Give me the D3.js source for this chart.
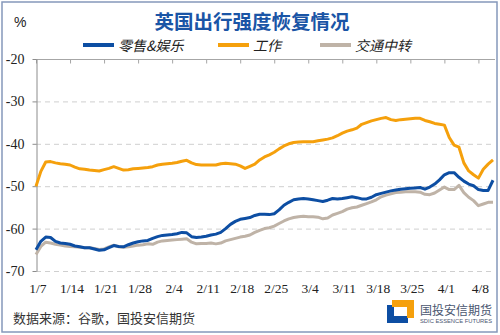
<!DOCTYPE html>
<html>
<head>
<meta charset="utf-8">
<script src="https://cdn.jsdelivr.net/npm/d3@7"></script>
<style>
  html, body { margin: 0; padding: 0; background: #fff; }
  svg { display: block; }
  .cjk { font-family: "Noto Sans CJK SC", "Noto Sans", sans-serif; }
  .num { font-family: "Liberation Serif", "DejaVu Serif", serif; }
</style>
</head>
<body>
<svg id="chart" width="500" height="335"></svg>
<script>
// UK mobility (Google), daily from 2021-01-07 to 2021-04-11, % vs baseline
var startDay = new Date(2021, 0, 7);
var endDay = new Date(2021, 3, 12);
var days = d3.timeDay.range(startDay, endDay);

var tickLabels = ["1/7", "1/14", "1/21", "1/28", "2/4", "2/11", "2/18",
                  "2/25", "3/4", "3/11", "3/18", "3/25", "4/1", "4/8"];
var yTicks = [-70, -60, -50, -40, -30, -20];

var retail = [
  -65, -63, -62, -62.1, -63, -63.4, -63.5, -63.7, -64.1, -64.3,
  -64.5, -64.5, -64.8, -65.1, -65, -64.5, -64, -64.2, -64.3, -63.8,
  -63.4, -63.1, -62.9, -62.8, -62.3, -61.9, -61.6, -61.5, -61.4, -61.2,
  -60.9, -61, -61.9, -62.1, -62, -61.8, -61.5, -61.3, -60.9, -60,
  -59, -58.3, -57.8, -57.6, -57.4, -56.9, -56.6, -56.6, -56.7, -56.5,
  -55.6, -54.5, -53.8, -53.2, -53, -52.9, -53, -53.2, -53.4, -53.6,
  -53.3, -52.9, -53, -52.9, -52.7, -52.5, -52.7, -53, -53, -52.6,
  -52, -51.7, -51.4, -51.1, -50.9, -50.7, -50.6, -50.5, -50.4, -50.3,
  -50.7, -50.2, -49.5, -48.5, -47.3, -46.8, -46.8, -47.9, -48.8, -49.5,
  -49.9, -50.8, -51, -51, -48.6
];

var work = [
  -50, -46.5, -44.3, -44.2, -44.5, -44.7, -44.8, -45, -45.5, -45.9,
  -46, -46.2, -46.3, -46.4, -46.1, -45.8, -45.4, -45.8, -46.2, -46.1,
  -45.9, -45.8, -45.7, -45.6, -45.4, -45, -44.8, -44.7, -44.6, -44.4,
  -44.1, -43.9, -44.5, -44.9, -45, -45, -45, -45, -44.7, -44.6,
  -44.7, -44.8, -45.2, -45.8, -45.3, -44.8, -43.8, -43.1, -42.6, -42,
  -41.2, -40.5, -40, -39.7, -39.6, -39.5, -39.5, -39.5, -39.3, -39.1,
  -38.9, -38.6, -38.1, -37.5, -37, -36.7, -36.3, -35.4, -35, -34.6,
  -34.3, -34, -33.8, -34.3, -34.5, -34.3, -34.2, -34.1, -34, -34,
  -34.5, -34.8, -35.2, -35.4, -35.6, -38.5, -40.3, -40.8, -44.5, -46.4,
  -47.3, -48.1, -46, -44.8, -43.8
];

var transit = [
  -66.1, -64.2, -63.2, -63.4, -63.7, -63.9, -64.1, -64.2, -64.3, -64.4,
  -64.5, -64.5, -64.7, -64.9, -64.8, -64.3, -63.9, -64.3, -64.4, -64.3,
  -64.1, -63.9, -63.8, -63.6, -63.7, -63.2, -62.9, -62.8, -62.7, -62.6,
  -62.5, -62.4, -63.2, -63.6, -63.5, -63.5, -63.4, -63.6, -63.4, -62.9,
  -62.6, -62.3, -62, -61.8, -61.5, -60.9, -60.4, -60, -59.8, -59.4,
  -58.8, -58.2, -57.7, -57.4, -57.2, -57.1, -57.2, -57.2, -57.3, -57.7,
  -57.5, -56.8, -56.4, -56, -55.4, -55.1, -54.9, -54.5, -54.1, -53.7,
  -53.2, -52.5, -52.1, -51.8, -51.5, -51.4, -51.3, -51.3, -51.3, -51.4,
  -51.9, -52, -51.6, -50.9, -50.2, -50.8, -50.8, -49.8, -51.5, -52.6,
  -53.4, -54.6, -54.2, -53.8, -53.8
];

var seriesNames = ["零售&娱乐", "工作", "交通中转"];
var seriesColors = ["#0d4ea3", "#f5a00c", "#bfb3a7"];
var seriesData = [retail, work, transit];

var svg = d3.select("#chart");

// outer frame
svg.append("rect")
  .attr("x", 2).attr("y", 2).attr("width", 495).attr("height", 330)
  .attr("fill", "none").attr("stroke", "#8598bb").attr("stroke-width", 1.5);

var x = d3.scaleTime()
  .domain([days[0], days[days.length - 1]])
  .range([36, 493]);
var y = d3.scaleLinear().domain([-70, -20]).range([271, 59]);

// dashed gridlines
svg.append("g").selectAll("line")
  .data(yTicks.filter(function(v) { return v < -20; }))
  .join("line")
  .attr("x1", 36).attr("x2", 495)
  .attr("y1", function(d) { return y(d) + 0.5; })
  .attr("y2", function(d) { return y(d) + 0.5; })
  .attr("stroke", "#cfcfcf").attr("stroke-width", 1)
  .attr("stroke-dasharray", "5,4");

// category axis sits on top, ticks pointing down
var tickDays = tickLabels.map(function(t) {
  var p = t.split("/");
  return new Date(2021, +p[0] - 1, +p[1]);
});
var topAxis = svg.append("g")
  .attr("transform", "translate(0," + (y(-20) + 0.5) + ")")
  .call(d3.axisTop(x).tickValues(tickDays).tickSizeInner(-4).tickSizeOuter(0).tickFormat(""));
topAxis.select(".domain").attr("stroke", "#a6a6a6").attr("d", "M36,0H495");
topAxis.selectAll(".tick line").attr("stroke", "#a6a6a6");

// value axis
var leftAxis = svg.append("g")
  .attr("transform", "translate(36.5,0)")
  .call(d3.axisLeft(y).tickValues(yTicks).tickSize(4).tickSizeOuter(0).tickPadding(8)
    .tickFormat(function(d) { return d; }));
leftAxis.select(".domain").attr("stroke", "#8c8c8c");
leftAxis.selectAll(".tick line").attr("stroke", "#8c8c8c");
leftAxis.selectAll(".tick text")
  .attr("class", "num").attr("font-size", 14).attr("fill", "#222");

// date labels under the plot
svg.append("g").selectAll("text")
  .data(tickDays)
  .join("text")
  .attr("class", "num")
  .attr("x", function(d) { return x(d) + 2; })
  .attr("y", 293)
  .attr("text-anchor", "middle")
  .attr("font-size", 13.5)
  .attr("fill", "#222")
  .text(function(d, i) { return tickLabels[i]; });

// lines: transit first so retail stays on top
var line = d3.line()
  .x(function(d, i) { return x(days[i]); })
  .y(function(d) { return y(d); });

[2, 1, 0].forEach(function(k) {
  svg.append("path")
    .datum(seriesData[k])
    .attr("d", line)
    .attr("fill", "none")
    .attr("stroke", seriesColors[k])
    .attr("stroke-width", 3)
    .attr("stroke-linejoin", "round");
});

// title and unit
svg.append("text")
  .attr("class", "cjk")
  .attr("x", 252).attr("y", 28.5)
  .attr("text-anchor", "middle")
  .attr("font-size", 19.5).attr("font-weight", "bold")
  .attr("fill", "#1a55a6")
  .text("英国出行强度恢复情况");

svg.append("text")
  .attr("x", 14).attr("y", 27)
  .attr("font-family", "Liberation Sans, Arial, sans-serif")
  .attr("font-size", 14).attr("fill", "#222")
  .text("%");

// legend
var legendX = [83, 218, 320];
var legend = svg.append("g").selectAll("g")
  .data(seriesNames)
  .join("g")
  .attr("transform", function(d, i) { return "translate(" + legendX[i] + ",45)"; });
legend.append("line")
  .attr("x1", 0).attr("x2", 31).attr("y1", 0).attr("y2", 0)
  .attr("stroke", function(d, i) { return seriesColors[i]; })
  .attr("stroke-width", 4);
legend.append("text")
  .attr("class", "cjk")
  .attr("x", 35).attr("y", 5.5)
  .attr("font-size", 14).attr("font-style", "italic")
  .attr("fill", "#222")
  .text(function(d) { return d; });

// source note
svg.append("text")
  .attr("class", "cjk")
  .attr("x", 13).attr("y", 323)
  .attr("font-size", 13).attr("fill", "#333")
  .text("数据来源：谷歌，国投安信期货");

// company mark
var logo = svg.append("g").attr("transform", "translate(387,300)");
logo.append("path")
  .attr("d", "M0,5H7V16H21V23H0Z")
  .attr("fill", "#0d4ea3");
logo.append("path")
  .attr("d", "M5,0H27V18H20V7H5Z")
  .attr("fill", "#f5a00c");
svg.append("text")
  .attr("class", "cjk")
  .attr("x", 420).attr("y", 315)
  .attr("font-size", 12).attr("fill", "#4a5670")
  .text("国投安信期货");
svg.append("text")
  .attr("x", 420).attr("y", 323)
  .attr("font-family", "Liberation Sans Narrow, Liberation Sans, sans-serif")
  .attr("font-size", 6).attr("fill", "#4a5670")
  .attr("textLength", 72).attr("lengthAdjust", "spacingAndGlyphs")
  .text("SDIC ESSENCE FUTURES");
</script>
</body>
</html>
